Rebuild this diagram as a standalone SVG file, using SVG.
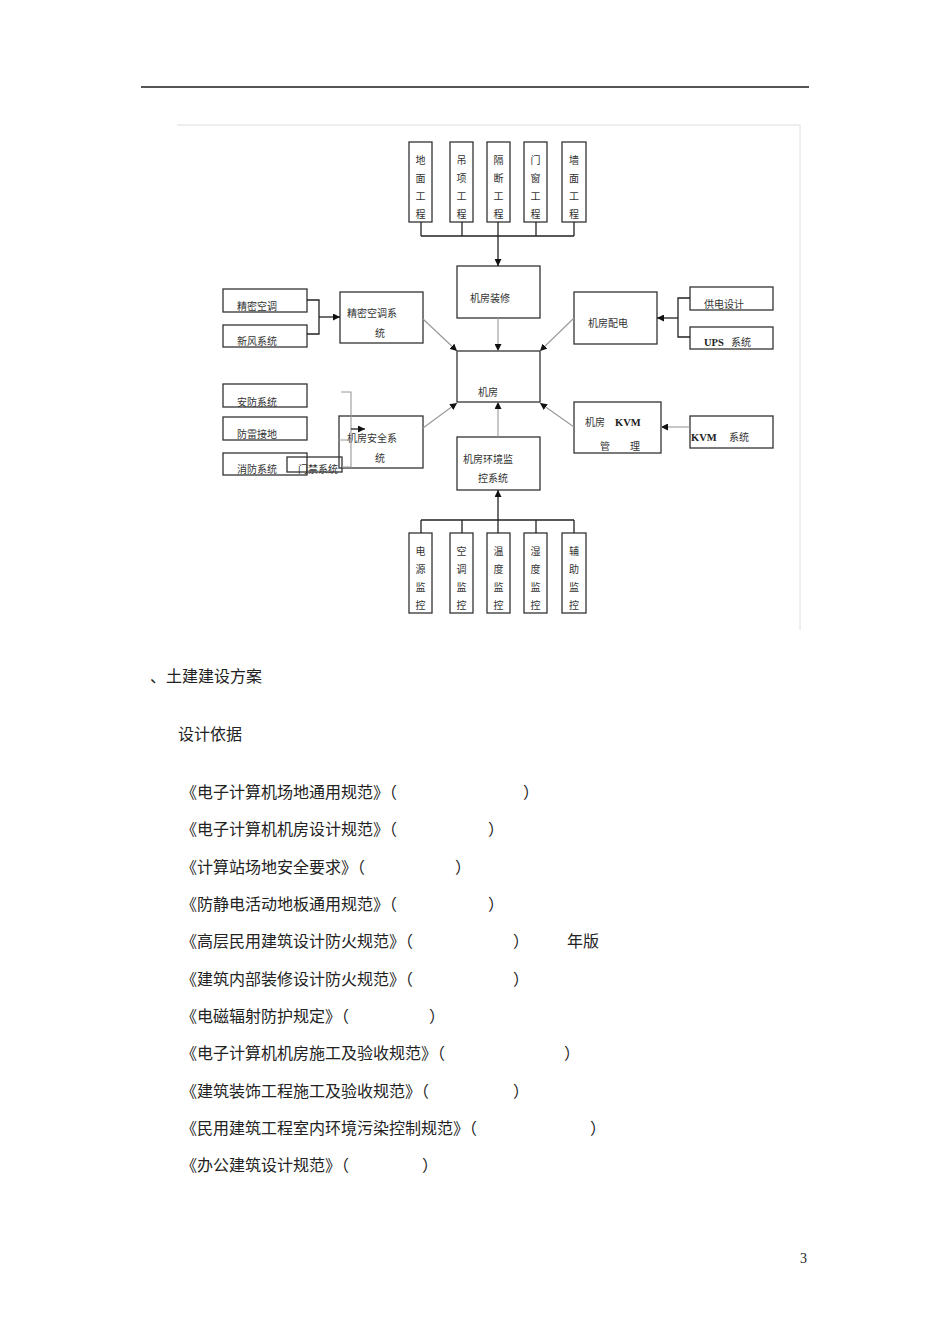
<svg xmlns="http://www.w3.org/2000/svg" width="950" height="1344" viewBox="0 0 950 1344">
<style>
.bx{fill:#fff;stroke:#333;stroke-width:1.3}
.t{font-family:"Noto Sans CJK SC","Liberation Serif",serif;font-size:10px;fill:#333}
.v{font-family:"Noto Sans CJK SC","Liberation Serif",serif;font-size:10px;fill:#333;text-anchor:middle}
.b{font-family:"Liberation Serif","Noto Sans CJK SC",serif;font-size:10.5px;font-weight:bold;fill:#222}
.ln{fill:none;stroke:#222;stroke-width:1.3}
.gl{fill:none;stroke:#999;stroke-width:1.1}
.body{font-family:"Noto Sans CJK SC",sans-serif;font-size:16px;fill:#222}
</style>
<defs>
<marker id="ah" viewBox="0 0 10 10" refX="10" refY="5" markerWidth="7" markerHeight="7" markerUnits="userSpaceOnUse" orient="auto">
<path d="M0,0 L10,5 L0,10 z" fill="#111"/>
</marker>
</defs>
<rect width="950" height="1344" fill="#fff"/>
<line x1="141" y1="87" x2="809" y2="87" stroke="#555" stroke-width="2"/>
<path d="M177,125 H800 V630" fill="none" stroke="#dedede" stroke-width="1"/>

<g id="n-dimian"><rect class="bx" x="409" y="142" width="23" height="80"/><text class="v" x="420.5" y="164">地</text><text class="v" x="420.5" y="182">面</text><text class="v" x="420.5" y="200">工</text><text class="v" x="420.5" y="218">程</text></g>
<g id="n-diaoding"><rect class="bx" x="450" y="142" width="23" height="80"/><text class="v" x="461.5" y="164">吊</text><text class="v" x="461.5" y="182">项</text><text class="v" x="461.5" y="200">工</text><text class="v" x="461.5" y="218">程</text></g>
<g id="n-geduan"><rect class="bx" x="487" y="142" width="23" height="80"/><text class="v" x="498.5" y="164">隔</text><text class="v" x="498.5" y="182">断</text><text class="v" x="498.5" y="200">工</text><text class="v" x="498.5" y="218">程</text></g>
<g id="n-menchuang"><rect class="bx" x="524" y="142" width="23" height="80"/><text class="v" x="535.5" y="164">门</text><text class="v" x="535.5" y="182">窗</text><text class="v" x="535.5" y="200">工</text><text class="v" x="535.5" y="218">程</text></g>
<g id="n-qiangmian"><rect class="bx" x="562" y="142" width="24" height="80"/><text class="v" x="574" y="164">墙</text><text class="v" x="574" y="182">面</text><text class="v" x="574" y="200">工</text><text class="v" x="574" y="218">程</text></g>

<g id="n-zhuangxiu"><rect class="bx" x="457" y="266" width="83" height="52"/><text class="t" x="470" y="301.5">机房装修</text></g>
<g id="n-jifang"><rect class="bx" x="457" y="351" width="83" height="51"/><text class="t" x="478" y="395.5">机房</text></g>

<g id="n-jingmi"><rect class="bx" x="223" y="289" width="84" height="23"/><text class="t" x="237" y="309.5">精密空调</text></g>
<g id="n-xinfeng"><rect class="bx" x="223" y="325" width="84" height="22"/><text class="t" x="237" y="344.5">新风系统</text></g>
<g id="n-kongtiao"><rect class="bx" x="340" y="292" width="83" height="51"/><text class="t" x="347" y="316.5">精密空调系</text><text class="t" x="375" y="336.5">统</text></g>

<g id="n-peidian"><rect class="bx" x="574" y="292" width="83" height="52"/><text class="t" x="588" y="326.5">机房配电</text></g>
<g id="n-gongdian"><rect class="bx" x="690" y="287" width="83" height="23"/><text class="t" x="704" y="308">供电设计</text></g>
<g id="n-ups"><rect class="bx" x="690" y="327" width="83" height="22"/><text class="b" x="704" y="345.5">UPS</text><text class="t" x="731" y="345.5">系统</text></g>

<g id="n-anfang"><rect class="bx" x="223" y="384" width="84" height="23"/><text class="t" x="237" y="405.5">安防系统</text></g>
<g id="n-fanglei"><rect class="bx" x="223" y="417" width="84" height="23"/><text class="t" x="237" y="437.5">防雷接地</text></g>
<g id="n-xiaofang"><rect class="bx" x="223" y="453" width="84" height="22"/><text class="t" x="237" y="472.5">消防系统</text></g>
<g id="n-anquan"><rect class="bx" x="339" y="416" width="84" height="52"/><text class="t" x="347" y="441.5">机房安全系</text><text class="t" x="375" y="461.5">统</text></g>
<g id="n-menjin"><rect x="287" y="457" width="55" height="15" fill="none" stroke="#333" stroke-width="1.3"/><text class="t" x="298" y="472.5">门禁系统</text></g>

<g id="n-huanjing"><rect class="bx" x="457" y="437" width="83" height="53"/><text class="t" x="463" y="462.5">机房环境监</text><text class="t" x="478" y="481.5">控系统</text></g>
<g id="n-kvm"><rect class="bx" x="574" y="402" width="87" height="51"/><text class="t" x="585" y="425.5">机房</text><text class="b" x="615" y="425.5">KVM</text><text class="t" x="600" y="449.5">管</text><text class="t" x="630" y="449.5">理</text></g>
<g id="n-kvmsys"><rect class="bx" x="690" y="416" width="83" height="32"/><text class="b" x="691" y="440.5">KVM</text><text class="t" x="729" y="440.5">系统</text></g>

<g id="n-dianyuan"><rect class="bx" x="409" y="533" width="23" height="80"/><text class="v" x="420.5" y="555">电</text><text class="v" x="420.5" y="573">源</text><text class="v" x="420.5" y="591">监</text><text class="v" x="420.5" y="609">控</text></g>
<g id="n-kongtiaojk"><rect class="bx" x="450" y="533" width="23" height="80"/><text class="v" x="461.5" y="555">空</text><text class="v" x="461.5" y="573">调</text><text class="v" x="461.5" y="591">监</text><text class="v" x="461.5" y="609">控</text></g>
<g id="n-wendu"><rect class="bx" x="487" y="533" width="23" height="80"/><text class="v" x="498.5" y="555">温</text><text class="v" x="498.5" y="573">度</text><text class="v" x="498.5" y="591">监</text><text class="v" x="498.5" y="609">控</text></g>
<g id="n-shidu"><rect class="bx" x="524" y="533" width="23" height="80"/><text class="v" x="535.5" y="555">湿</text><text class="v" x="535.5" y="573">度</text><text class="v" x="535.5" y="591">监</text><text class="v" x="535.5" y="609">控</text></g>
<g id="n-fuzhu"><rect class="bx" x="562" y="533" width="24" height="80"/><text class="v" x="574" y="555">辅</text><text class="v" x="574" y="573">助</text><text class="v" x="574" y="591">监</text><text class="v" x="574" y="609">控</text></g>

<g id="connectors">
<path class="ln" d="M421,222 V236 M462,222 V236 M536,222 V236 M574,222 V236 M421,236 H574"/>
<path class="ln" d="M498,222 V266" marker-end="url(#ah)"/>
<path class="gl" d="M498,318 V351" marker-end="url(#ah)"/>
<path class="ln" d="M307,300 H319 V334 H307"/>
<path class="ln" d="M319,317 H340" marker-end="url(#ah)"/>
<path class="gl" d="M423,319 L457,351" marker-end="url(#ah)"/>
<path class="ln" d="M690,298 H678 V337 H690"/>
<path class="ln" d="M678,318 H657" marker-end="url(#ah)"/>
<path class="gl" d="M574,318 L540,351" marker-end="url(#ah)"/>
<path class="gl" d="M341,392 H351 V467 H342 M338,440 H351"/>
<path class="ln" d="M351,429 H365" marker-end="url(#ah)"/>
<path class="gl" d="M423,428 L457,403" marker-end="url(#ah)"/>
<path class="gl" d="M498,437 V402" marker-end="url(#ah)"/>
<path class="gl" d="M690,427 H661" marker-end="url(#ah)"/>
<path class="gl" d="M574,427 L540,403" marker-end="url(#ah)"/>
<path class="ln" d="M421,533 V520 M462,533 V520 M536,533 V520 M574,533 V520 M421,520 H574"/>
<path class="ln" d="M498,533 V490" marker-end="url(#ah)"/>
</g>

<g id="body">
<text class="body" x="150" y="682">、土建建设方案</text>
<text class="body" x="178" y="740">设计依据</text>
<text class="body" x="181" y="798">《电子计算机场地通用规范》（</text><text class="body" x="523" y="798">）</text>
<text class="body" x="181" y="835">《电子计算机机房设计规范》（</text><text class="body" x="488" y="835">）</text>
<text class="body" x="181" y="873">《计算站场地安全要求》（</text><text class="body" x="455" y="873">）</text>
<text class="body" x="181" y="910">《防静电活动地板通用规范》（</text><text class="body" x="488" y="910">）</text>
<text class="body" x="181" y="947">《高层民用建筑设计防火规范》（</text><text class="body" x="513" y="947">）</text><text class="body" x="567" y="947">年版</text>
<text class="body" x="181" y="985">《建筑内部装修设计防火规范》（</text><text class="body" x="513" y="985">）</text>
<text class="body" x="181" y="1022">《电磁辐射防护规定》（</text><text class="body" x="429" y="1022">）</text>
<text class="body" x="181" y="1059">《电子计算机机房施工及验收规范》（</text><text class="body" x="564" y="1059">）</text>
<text class="body" x="181" y="1097">《建筑装饰工程施工及验收规范》（</text><text class="body" x="513" y="1097">）</text>
<text class="body" x="181" y="1134">《民用建筑工程室内环境污染控制规范》（</text><text class="body" x="590" y="1134">）</text>
<text class="body" x="181" y="1171">《办公建筑设计规范》（</text><text class="body" x="422" y="1171">）</text>
<text x="800" y="1263" font-family="Liberation Serif, serif" font-size="14" fill="#222">3</text>
</g>
</svg>
